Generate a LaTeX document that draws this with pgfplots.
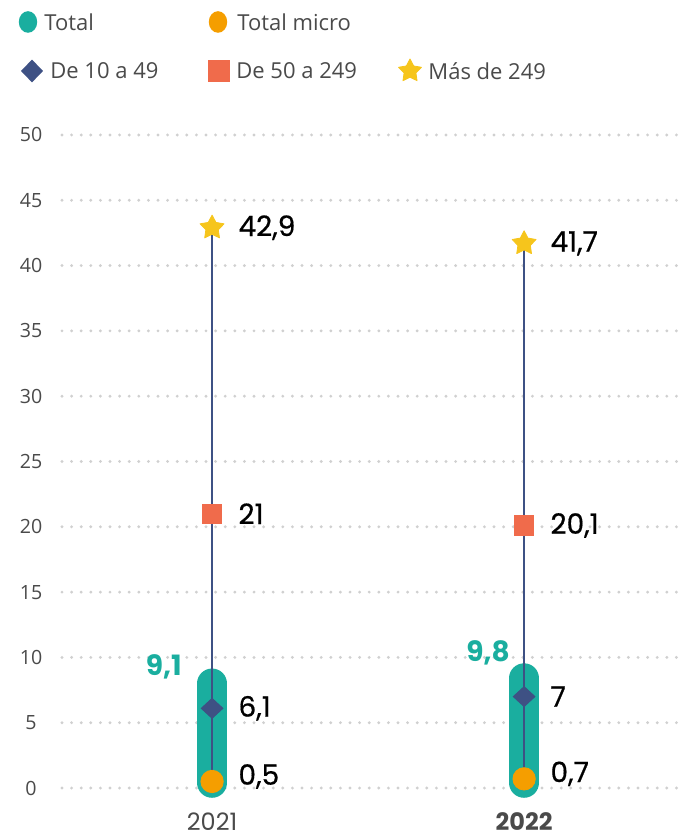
\documentclass[border=0pt]{standalone}
\usepackage{fontspec}
\setmainfont{Open Sans}
\newfontfamily\pop{Poppins}
\newfontface\popm{Poppins}[FakeBold=0.6]
\usepackage{pgfplots}
\pgfplotsset{compat=1.18}
\definecolor{cteal}{HTML}{1AAE9F}
\definecolor{corange}{HTML}{F59E00}
\definecolor{cnavy}{HTML}{3E5184}
\definecolor{ccoral}{HTML}{F06B4B}
\definecolor{cyellow}{HTML}{F6C51C}
\definecolor{cgrid}{HTML}{D0D0D0}
\definecolor{ctxt}{HTML}{4A4A4A}

% filled five-point star
\pgfdeclareplotmark{fstar}{%
  \pgfpathmoveto{\pgfpointpolar{90}{\pgfplotmarksize}}%
  \pgfpathlineto{\pgfpointpolar{126}{0.52\pgfplotmarksize}}%
  \pgfpathlineto{\pgfpointpolar{162}{\pgfplotmarksize}}%
  \pgfpathlineto{\pgfpointpolar{198}{0.52\pgfplotmarksize}}%
  \pgfpathlineto{\pgfpointpolar{234}{\pgfplotmarksize}}%
  \pgfpathlineto{\pgfpointpolar{270}{0.52\pgfplotmarksize}}%
  \pgfpathlineto{\pgfpointpolar{306}{\pgfplotmarksize}}%
  \pgfpathlineto{\pgfpointpolar{342}{0.52\pgfplotmarksize}}%
  \pgfpathlineto{\pgfpointpolar{18}{\pgfplotmarksize}}%
  \pgfpathlineto{\pgfpointpolar{54}{0.52\pgfplotmarksize}}%
  \pgfpathclose
  \pgfusepathqfillstroke
}

\pgfplotsset{vlab/.style={nodes near coords, point meta=explicit symbolic,
  nodes near coords style={anchor=west, inner sep=0pt, xshift=13pt,
    font=\popm\fontsize{14}{14}\selectfont, text=black}}}

\begin{document}
\begin{tikzpicture}[x=1pt,y=1pt]
\useasboundingbox (-31,-15.7) rectangle (310,403.8);
\begin{axis}[
  at={(0,0)}, anchor=south west,
  scale only axis, width=310pt, height=336.3pt,
  xmin=-0.481, xmax=1.506, ymin=-1.5, ymax=50,
  axis line style={draw=none},
  tick style={draw=none},
  xtick={0,1}, xticklabels={2021,\textbf{2022}},
  xticklabel style={anchor=center, yshift=-7.2pt, font=\pop\fontsize{12}{12}\selectfont, text=ctxt},
  ytick={0,5,...,50},
  yticklabel style={anchor=center, xshift=-15.5pt, font=\fontsize{9.8}{10}\selectfont, text=ctxt},
  /pgf/number format/assume math mode=true,
  ymajorgrids,
  grid style={cgrid, line width=1.6pt, line cap=round, dash pattern=on 0pt off 4.8pt},
  clip=false,
]
% Total (teal capsule)
\addplot[cteal, line width=15pt, line cap=round] coordinates {(0,0.4) (0,8.0)};
\addplot[cteal, line width=15pt, line cap=round] coordinates {(1,0.4) (1,8.4)};
% vertical range line
\addplot[cnavy, line width=1.3pt] coordinates {(0,0.5) (0,42.9)};
\addplot[cnavy, line width=1.3pt] coordinates {(1,0.7) (1,41.7)};
% Total micro
\addplot[only marks, mark=*, mark size=5.6pt, corange, vlab,
  nodes near coords style={yshift=2.5pt}]
  table[meta=l, row sep=\\] {x y l\\ 0 0.5 {0,5}\\ 1 0.7 {0,7}\\};
% De 10 a 49
\addplot[only marks, mark=diamond*, mark size=5pt, mark options={xscale=1.45}, cnavy, vlab]
  table[meta=l, row sep=\\] {x y l\\ 0 6.1 {6,1}\\ 1 7 7\\};
% De 50 a 249
\addplot[only marks, mark=square*, mark size=4.8pt, ccoral, vlab]
  table[meta=l, row sep=\\] {x y l\\ 0 21 21\\ 1 20.1 {20,1}\\};
% Mas de 249
\addplot[only marks, mark=fstar, mark size=6.3pt, cyellow, line join=round, vlab]
  table[meta=l, row sep=\\] {x y l\\ 0 42.9 {42,9}\\ 1 41.7 {41,7}\\};
% Total labels
\addplot[draw=none, nodes near coords, point meta=explicit symbolic,
  nodes near coords style={anchor=east, inner sep=0pt, xshift=-15pt, yshift=1pt,
    font=\pop\bfseries\fontsize{14}{14}\selectfont, text=cteal}]
  table[meta=l, row sep=\\] {x y l\\ 0 9.1 {9,1}\\};
\addplot[draw=none, nodes near coords, point meta=explicit symbolic,
  nodes near coords style={anchor=east, inner sep=0pt, xshift=-7pt, yshift=3.5pt,
    font=\pop\bfseries\fontsize{14}{14}\selectfont, text=cteal}]
  table[meta=l, row sep=\\] {x y l\\ 1 9.8 {9,8}\\};
\end{axis}

% legend
\begin{scope}[every node/.style={anchor=west, inner sep=0pt, font=\fontsize{11}{12}\selectfont, text=ctxt}]
\fill[cteal] (-17,392.8) ellipse [x radius=4.6, y radius=5.4];
\node at (-9,392.8) {Total};
\fill[corange] (78,392.8) ellipse [x radius=4.6, y radius=5.4];
\node at (87.5,392.8) {Total micro};
\fill[cnavy] (-15,374) -- (-9.5,368.3) -- (-15,362.6) -- (-20.5,368.3) -- cycle;
\node at (-6,368.3) {De 10 a 49};
\fill[ccoral] (73.2,363) rectangle (83.8,373.6);
\node at (87,368.3) {De 50 a 249};
\path[fill=cyellow, draw=cyellow, line join=round] plot[mark=fstar, mark size=6pt] coordinates {(174,368.3)};
\node at (183,368.3) {Más de 249};
\end{scope}
\end{tikzpicture}
\end{document}
